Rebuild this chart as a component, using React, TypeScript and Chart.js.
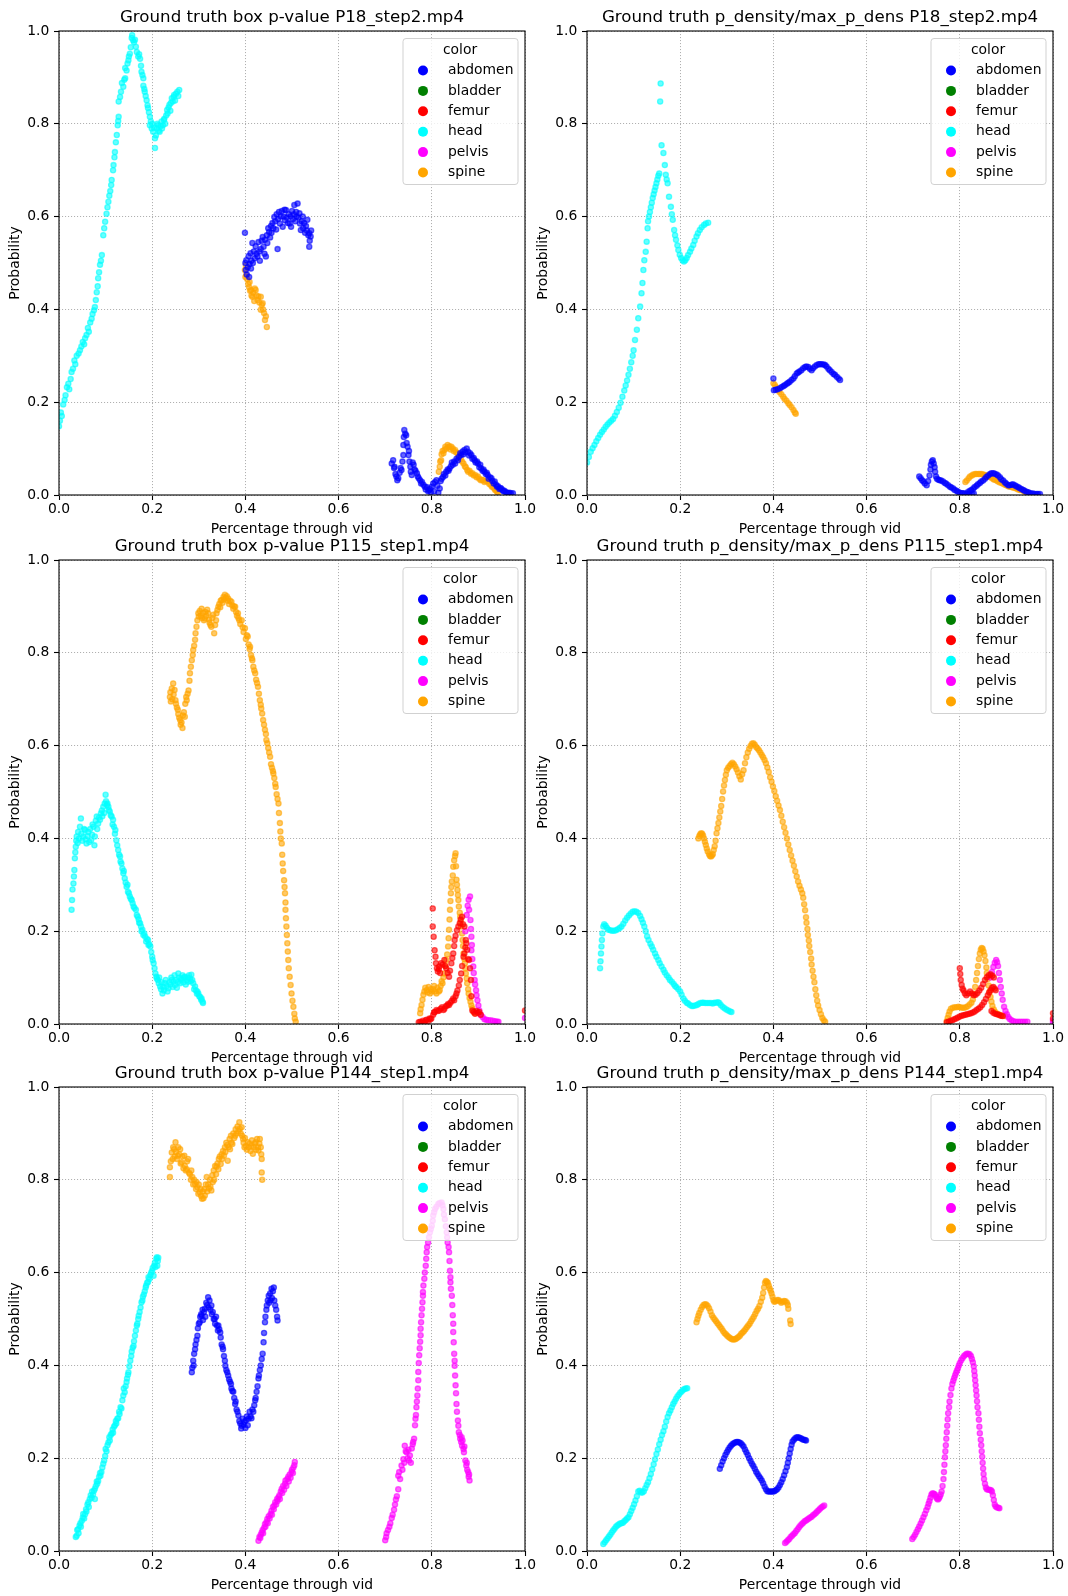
import { useEffect, useRef } from 'react';
import { Chart, registerables } from 'chart.js';

Chart.register(...registerables);

type Pt = [number, number];

const FONT = '"DejaVu Sans", "Liberation Sans", sans-serif';

// ---------- labels ----------
const categories = ['abdomen', 'bladder', 'femur', 'head', 'pelvis', 'spine'];
const categoryColors = ['0,0,255', '0,128,0', '255,0,0', '0,255,255', '255,0,255', '255,165,0'];
const axisTicks = [0, 0.2, 0.4, 0.6, 0.8, 1.0];
const xAxisLabel = 'Percentage through vid';
const yAxisLabel = 'Probability';
const legendTitle = 'color';
const panelTitles = [
  'Ground truth box p-value P18_step2.mp4',
  'Ground truth p_density/max_p_dens P18_step2.mp4',
  'Ground truth box p-value P115_step1.mp4',
  'Ground truth p_density/max_p_dens P115_step1.mp4',
  'Ground truth box p-value P144_step1.mp4',
  'Ground truth p_density/max_p_dens P144_step1.mp4',
];

// ---------- P18 box p-value ----------
const p18BoxHead: Pt[] = [[0.000,0.148],[0.002,0.160],[0.004,0.178],[0.006,0.170],[0.009,0.195],[0.012,0.205],[0.014,0.215],[0.017,0.232],[0.020,0.240],[0.022,0.228],[0.025,0.250],[0.027,0.265],[0.030,0.272],[0.033,0.290],[0.035,0.282],[0.038,0.300],[0.042,0.305],[0.045,0.312],[0.048,0.320],[0.051,0.330],[0.054,0.325],[0.056,0.338],[0.059,0.345],[0.062,0.360],[0.064,0.352],[0.067,0.372],[0.070,0.380],[0.072,0.390],[0.075,0.398],[0.077,0.405],[0.079,0.420],[0.081,0.437],[0.083,0.450],[0.084,0.467],[0.086,0.480],[0.088,0.496],[0.090,0.505],[0.092,0.517],[0.095,0.560],[0.097,0.575],[0.099,0.589],[0.102,0.606],[0.104,0.620],[0.106,0.632],[0.108,0.645],[0.110,0.655],[0.112,0.668],[0.113,0.679],[0.116,0.700],[0.117,0.711],[0.119,0.728],[0.120,0.739],[0.122,0.760],[0.124,0.776],[0.126,0.797],[0.127,0.806],[0.128,0.815],[0.128,0.848],[0.131,0.858],[0.133,0.869],[0.135,0.888],[0.138,0.880],[0.140,0.895],[0.142,0.898],[0.142,0.920],[0.145,0.915],[0.147,0.930],[0.149,0.937],[0.150,0.945],[0.152,0.951],[0.154,0.965],[0.156,0.985],[0.157,0.991],[0.159,0.980],[0.161,0.976],[0.163,0.981],[0.165,0.966],[0.167,0.955],[0.170,0.945],[0.172,0.950],[0.174,0.940],[0.176,0.925],[0.177,0.912],[0.179,0.905],[0.181,0.898],[0.181,0.882],[0.183,0.875],[0.184,0.869],[0.186,0.860],[0.188,0.851],[0.190,0.840],[0.191,0.834],[0.193,0.825],[0.195,0.815],[0.195,0.797],[0.197,0.805],[0.199,0.790],[0.200,0.800],[0.202,0.783],[0.204,0.792],[0.206,0.769],[0.206,0.748],[0.208,0.775],[0.210,0.790],[0.211,0.800],[0.213,0.797],[0.214,0.785],[0.216,0.783],[0.218,0.795],[0.220,0.805],[0.221,0.790],[0.223,0.797],[0.225,0.808],[0.226,0.811],[0.228,0.800],[0.230,0.818],[0.232,0.830],[0.233,0.822],[0.235,0.835],[0.237,0.841],[0.239,0.828],[0.240,0.845],[0.242,0.855],[0.244,0.848],[0.246,0.858],[0.247,0.862],[0.249,0.850],[0.251,0.865],[0.254,0.869],[0.256,0.860],[0.258,0.873]];
const p18BoxAbdomenMid: Pt[] = [[0.399,0.565],[0.400,0.500],[0.401,0.485],[0.402,0.506],[0.403,0.475],[0.405,0.491],[0.407,0.515],[0.408,0.470],[0.409,0.498],[0.411,0.521],[0.412,0.488],[0.413,0.505],[0.415,0.543],[0.416,0.500],[0.418,0.525],[0.420,0.510],[0.422,0.536],[0.424,0.520],[0.426,0.514],[0.428,0.545],[0.430,0.525],[0.431,0.505],[0.433,0.530],[0.435,0.548],[0.437,0.556],[0.439,0.535],[0.441,0.520],[0.442,0.550],[0.444,0.514],[0.446,0.560],[0.447,0.543],[0.449,0.575],[0.451,0.567],[0.453,0.555],[0.455,0.580],[0.456,0.565],[0.458,0.586],[0.460,0.575],[0.462,0.599],[0.464,0.590],[0.466,0.572],[0.467,0.605],[0.469,0.530],[0.470,0.595],[0.472,0.610],[0.474,0.585],[0.476,0.600],[0.478,0.612],[0.480,0.578],[0.482,0.600],[0.484,0.615],[0.485,0.592],[0.487,0.614],[0.489,0.598],[0.491,0.586],[0.493,0.605],[0.495,0.585],[0.497,0.600],[0.498,0.578],[0.500,0.612],[0.502,0.595],[0.504,0.605],[0.505,0.625],[0.507,0.590],[0.509,0.610],[0.510,0.600],[0.512,0.628],[0.514,0.598],[0.516,0.607],[0.517,0.585],[0.519,0.571],[0.521,0.590],[0.523,0.600],[0.524,0.575],[0.526,0.586],[0.528,0.565],[0.530,0.580],[0.532,0.570],[0.533,0.593],[0.535,0.560],[0.537,0.564],[0.538,0.548],[0.540,0.557],[0.537,0.535],[0.541,0.570]];
const p18BoxSpineMid: Pt[] = [[0.399,0.485],[0.400,0.470],[0.401,0.495],[0.402,0.474],[0.404,0.465],[0.406,0.455],[0.408,0.448],[0.409,0.459],[0.410,0.440],[0.412,0.442],[0.413,0.430],[0.415,0.427],[0.417,0.436],[0.419,0.418],[0.420,0.445],[0.422,0.442],[0.424,0.430],[0.426,0.420],[0.428,0.428],[0.430,0.415],[0.433,0.427],[0.433,0.399],[0.435,0.410],[0.437,0.413],[0.438,0.400],[0.440,0.392],[0.442,0.377],[0.444,0.385],[0.446,0.362]];
const p18BoxAbdomenEnd: Pt[] = [[0.714,0.068],[0.717,0.075],[0.719,0.058],[0.720,0.061],[0.722,0.045],[0.724,0.040],[0.726,0.032],[0.728,0.036],[0.731,0.048],[0.733,0.058],[0.735,0.054],[0.737,0.072],[0.739,0.086],[0.739,0.108],[0.740,0.125],[0.741,0.140],[0.743,0.132],[0.745,0.129],[0.746,0.112],[0.748,0.104],[0.750,0.086],[0.751,0.095],[0.752,0.072],[0.754,0.061],[0.755,0.050],[0.757,0.043],[0.759,0.070],[0.761,0.065],[0.763,0.055],[0.765,0.052],[0.768,0.047],[0.770,0.040],[0.772,0.036],[0.775,0.032],[0.777,0.025],[0.779,0.028],[0.782,0.022],[0.785,0.018],[0.787,0.012],[0.789,0.017],[0.792,0.008],[0.794,0.010],[0.796,0.013],[0.798,0.006],[0.800,0.018],[0.803,0.025],[0.805,0.008],[0.807,0.028],[0.810,0.032],[0.812,0.020],[0.814,0.005],[0.817,0.014],[0.819,0.030],[0.821,0.035],[0.824,0.039],[0.826,0.045],[0.829,0.042],[0.831,0.050],[0.834,0.055],[0.836,0.052],[0.838,0.057],[0.841,0.062],[0.843,0.070],[0.845,0.065],[0.848,0.072],[0.850,0.068],[0.853,0.078],[0.856,0.075],[0.858,0.082],[0.861,0.090],[0.863,0.086],[0.866,0.094],[0.868,0.088],[0.870,0.097],[0.872,0.092],[0.875,0.100],[0.878,0.093],[0.880,0.085],[0.882,0.090],[0.885,0.086],[0.887,0.078],[0.890,0.080],[0.892,0.075],[0.894,0.070],[0.897,0.072],[0.899,0.068],[0.902,0.060],[0.904,0.065],[0.906,0.057],[0.909,0.052],[0.911,0.055],[0.913,0.050],[0.916,0.045],[0.918,0.048],[0.920,0.043],[0.922,0.035],[0.925,0.038],[0.928,0.036],[0.930,0.030],[0.933,0.025],[0.935,0.029],[0.938,0.022],[0.940,0.018],[0.942,0.019],[0.945,0.013],[0.947,0.015],[0.949,0.014],[0.952,0.010],[0.954,0.008],[0.956,0.009],[0.959,0.006],[0.962,0.005],[0.965,0.004],[0.967,0.005],[0.970,0.003],[0.974,0.004]];
const p18BoxSpineEnd: Pt[] = [[0.815,0.050],[0.817,0.061],[0.818,0.072],[0.820,0.075],[0.821,0.088],[0.823,0.095],[0.825,0.090],[0.827,0.097],[0.829,0.104],[0.831,0.100],[0.834,0.108],[0.836,0.103],[0.838,0.105],[0.840,0.098],[0.842,0.104],[0.845,0.100],[0.847,0.095],[0.850,0.097],[0.852,0.092],[0.855,0.090],[0.857,0.082],[0.860,0.086],[0.862,0.078],[0.865,0.072],[0.868,0.068],[0.871,0.062],[0.873,0.060],[0.876,0.054],[0.878,0.050],[0.881,0.052],[0.884,0.046],[0.887,0.047],[0.890,0.042],[0.893,0.043],[0.896,0.038],[0.899,0.040],[0.902,0.035],[0.905,0.032],[0.908,0.033],[0.910,0.032],[0.913,0.028],[0.916,0.030],[0.920,0.029],[0.923,0.024],[0.926,0.022],[0.929,0.018],[0.931,0.018],[0.934,0.014],[0.936,0.011],[0.938,0.011],[0.940,0.007],[0.942,0.005]];

// ---------- P18 density ----------
const p18DensHead: Pt[] = [[0.000,0.070],[0.004,0.082],[0.008,0.093],[0.012,0.101],[0.016,0.108],[0.020,0.116],[0.024,0.123],[0.028,0.130],[0.032,0.136],[0.036,0.141],[0.040,0.147],[0.044,0.152],[0.048,0.156],[0.052,0.160],[0.056,0.164],[0.060,0.171],[0.064,0.179],[0.068,0.188],[0.072,0.199],[0.076,0.212],[0.080,0.225],[0.083,0.236],[0.086,0.247],[0.089,0.259],[0.092,0.272],[0.095,0.286],[0.098,0.300],[0.100,0.312],[0.103,0.334],[0.107,0.356],[0.110,0.381],[0.114,0.406],[0.117,0.435],[0.119,0.457],[0.121,0.485],[0.123,0.506],[0.126,0.524],[0.128,0.546],[0.130,0.575],[0.131,0.590],[0.133,0.600],[0.135,0.610],[0.137,0.620],[0.139,0.630],[0.141,0.640],[0.143,0.648],[0.145,0.656],[0.147,0.664],[0.149,0.672],[0.151,0.680],[0.153,0.688],[0.155,0.693],[0.157,0.848],[0.158,0.887],[0.160,0.754],[0.164,0.737],[0.167,0.711],[0.169,0.690],[0.171,0.680],[0.173,0.672],[0.176,0.643],[0.180,0.621],[0.182,0.605],[0.184,0.593],[0.187,0.571],[0.189,0.560],[0.191,0.550],[0.194,0.538],[0.196,0.528],[0.199,0.518],[0.202,0.511],[0.205,0.506],[0.208,0.503],[0.211,0.506],[0.214,0.511],[0.217,0.517],[0.221,0.524],[0.224,0.531],[0.228,0.539],[0.231,0.548],[0.235,0.557],[0.238,0.564],[0.242,0.571],[0.246,0.577],[0.251,0.582],[0.255,0.585],[0.260,0.587]];
const p18DensAbdomenMid: Pt[] = [[0.400,0.251],[0.401,0.226],[0.405,0.227],[0.409,0.228],[0.414,0.230],[0.418,0.233],[0.422,0.235],[0.425,0.237],[0.429,0.240],[0.432,0.242],[0.435,0.244],[0.439,0.248],[0.443,0.251],[0.446,0.256],[0.450,0.262],[0.453,0.264],[0.456,0.266],[0.460,0.269],[0.464,0.273],[0.468,0.276],[0.471,0.277],[0.475,0.276],[0.478,0.272],[0.482,0.269],[0.485,0.273],[0.489,0.277],[0.493,0.280],[0.497,0.282],[0.500,0.282],[0.504,0.282],[0.508,0.281],[0.511,0.280],[0.514,0.277],[0.518,0.272],[0.521,0.269],[0.525,0.265],[0.529,0.261],[0.532,0.259],[0.536,0.255],[0.540,0.251],[0.543,0.248]];
const p18DensSpineMid: Pt[] = [[0.400,0.241],[0.403,0.237],[0.406,0.232],[0.410,0.226],[0.413,0.222],[0.417,0.217],[0.421,0.212],[0.424,0.207],[0.428,0.203],[0.432,0.198],[0.435,0.194],[0.439,0.189],[0.443,0.183],[0.446,0.178],[0.448,0.175]];
const p18DensAbdomenEnd: Pt[] = [[0.713,0.040],[0.716,0.036],[0.719,0.032],[0.722,0.029],[0.725,0.025],[0.729,0.021],[0.732,0.030],[0.735,0.042],[0.737,0.055],[0.738,0.065],[0.740,0.072],[0.742,0.075],[0.744,0.068],[0.746,0.060],[0.747,0.050],[0.749,0.040],[0.751,0.035],[0.754,0.033],[0.757,0.032],[0.760,0.031],[0.764,0.029],[0.768,0.026],[0.771,0.024],[0.775,0.021],[0.779,0.018],[0.782,0.016],[0.786,0.014],[0.789,0.011],[0.793,0.009],[0.796,0.007],[0.800,0.005],[0.804,0.004],[0.807,0.004],[0.811,0.003],[0.815,0.003],[0.820,0.003],[0.826,0.003],[0.830,0.003],[0.818,0.007],[0.822,0.009],[0.825,0.011],[0.829,0.014],[0.832,0.017],[0.836,0.020],[0.839,0.023],[0.843,0.026],[0.846,0.029],[0.850,0.031],[0.854,0.035],[0.857,0.039],[0.861,0.042],[0.865,0.045],[0.868,0.047],[0.872,0.047],[0.875,0.046],[0.879,0.044],[0.882,0.042],[0.886,0.038],[0.889,0.034],[0.893,0.031],[0.897,0.027],[0.900,0.024],[0.904,0.021],[0.907,0.021],[0.911,0.022],[0.914,0.023],[0.918,0.021],[0.921,0.019],[0.925,0.017],[0.928,0.015],[0.932,0.013],[0.936,0.011],[0.939,0.009],[0.943,0.007],[0.947,0.006],[0.950,0.004],[0.954,0.003],[0.957,0.003],[0.961,0.002],[0.965,0.002],[0.968,0.002],[0.972,0.002]];
const p18DensSpineEnd: Pt[] = [[0.812,0.028],[0.815,0.031],[0.819,0.036],[0.822,0.040],[0.826,0.042],[0.829,0.044],[0.833,0.045],[0.836,0.045],[0.840,0.045],[0.843,0.045],[0.847,0.045],[0.850,0.044],[0.854,0.043],[0.857,0.042],[0.861,0.040],[0.864,0.039],[0.868,0.037],[0.872,0.034],[0.875,0.033],[0.879,0.031],[0.882,0.029],[0.886,0.027],[0.890,0.026],[0.893,0.024],[0.897,0.022],[0.900,0.021],[0.904,0.019],[0.907,0.018],[0.911,0.017],[0.914,0.016],[0.918,0.015],[0.922,0.014],[0.925,0.012],[0.929,0.011],[0.932,0.011],[0.936,0.009],[0.939,0.007],[0.943,0.005]];

// ---------- P115 box p-value ----------
const p115BoxHead: Pt[] = [[0.027,0.246],[0.028,0.267],[0.029,0.290],[0.031,0.303],[0.032,0.318],[0.033,0.332],[0.034,0.357],[0.035,0.370],[0.036,0.382],[0.037,0.395],[0.038,0.404],[0.040,0.390],[0.041,0.414],[0.043,0.400],[0.045,0.425],[0.047,0.443],[0.048,0.410],[0.050,0.395],[0.052,0.404],[0.054,0.420],[0.056,0.418],[0.057,0.398],[0.059,0.389],[0.061,0.405],[0.063,0.414],[0.065,0.392],[0.067,0.420],[0.069,0.396],[0.071,0.408],[0.072,0.430],[0.074,0.425],[0.076,0.385],[0.077,0.404],[0.079,0.438],[0.081,0.447],[0.082,0.420],[0.084,0.432],[0.086,0.445],[0.088,0.440],[0.090,0.454],[0.092,0.460],[0.093,0.448],[0.095,0.468],[0.097,0.455],[0.098,0.475],[0.100,0.494],[0.101,0.480],[0.103,0.472],[0.104,0.475],[0.106,0.468],[0.107,0.461],[0.109,0.458],[0.111,0.450],[0.113,0.447],[0.115,0.430],[0.116,0.440],[0.118,0.425],[0.120,0.410],[0.121,0.418],[0.123,0.396],[0.125,0.385],[0.127,0.375],[0.129,0.365],[0.131,0.361],[0.132,0.350],[0.134,0.346],[0.136,0.335],[0.138,0.325],[0.139,0.330],[0.141,0.314],[0.143,0.305],[0.145,0.296],[0.147,0.300],[0.148,0.285],[0.150,0.282],[0.152,0.275],[0.154,0.270],[0.156,0.267],[0.158,0.260],[0.160,0.253],[0.162,0.250],[0.165,0.246],[0.167,0.235],[0.169,0.231],[0.171,0.225],[0.172,0.218],[0.174,0.217],[0.176,0.210],[0.177,0.200],[0.179,0.203],[0.181,0.192],[0.183,0.195],[0.185,0.188],[0.187,0.178],[0.189,0.183],[0.191,0.181],[0.192,0.170],[0.194,0.172],[0.196,0.167],[0.198,0.155],[0.200,0.145],[0.201,0.138],[0.203,0.131],[0.205,0.120],[0.207,0.109],[0.209,0.102],[0.210,0.098],[0.212,0.095],[0.214,0.088],[0.215,0.100],[0.217,0.081],[0.219,0.075],[0.220,0.090],[0.222,0.066],[0.224,0.080],[0.225,0.072],[0.227,0.088],[0.229,0.095],[0.231,0.082],[0.233,0.070],[0.235,0.077],[0.237,0.090],[0.239,0.085],[0.241,0.100],[0.242,0.095],[0.244,0.080],[0.246,0.092],[0.248,0.105],[0.249,0.084],[0.251,0.095],[0.253,0.078],[0.255,0.090],[0.256,0.109],[0.258,0.100],[0.260,0.088],[0.262,0.098],[0.263,0.095],[0.265,0.105],[0.267,0.090],[0.269,0.100],[0.270,0.102],[0.272,0.085],[0.274,0.095],[0.276,0.100],[0.277,0.091],[0.279,0.105],[0.281,0.098],[0.283,0.092],[0.284,0.106],[0.286,0.095],[0.288,0.088],[0.290,0.075],[0.292,0.081],[0.294,0.072],[0.296,0.065],[0.297,0.070],[0.299,0.066],[0.301,0.060],[0.303,0.058],[0.305,0.052],[0.306,0.055],[0.308,0.048],[0.309,0.045]];
const p115BoxSpine: Pt[] = [[0.238,0.705],[0.239,0.715],[0.240,0.695],[0.242,0.723],[0.243,0.700],[0.245,0.734],[0.246,0.710],[0.248,0.720],[0.250,0.698],[0.251,0.690],[0.253,0.682],[0.255,0.677],[0.256,0.668],[0.258,0.660],[0.260,0.655],[0.261,0.645],[0.263,0.650],[0.265,0.638],[0.266,0.665],[0.268,0.672],[0.270,0.662],[0.271,0.690],[0.273,0.705],[0.274,0.698],[0.276,0.712],[0.278,0.719],[0.280,0.740],[0.281,0.756],[0.283,0.770],[0.285,0.784],[0.287,0.795],[0.288,0.806],[0.290,0.815],[0.292,0.828],[0.293,0.842],[0.295,0.856],[0.297,0.870],[0.299,0.885],[0.300,0.878],[0.302,0.890],[0.304,0.880],[0.306,0.895],[0.307,0.875],[0.309,0.886],[0.311,0.870],[0.313,0.874],[0.314,0.888],[0.316,0.880],[0.318,0.893],[0.320,0.885],[0.322,0.872],[0.323,0.865],[0.325,0.860],[0.327,0.856],[0.329,0.875],[0.331,0.882],[0.333,0.842],[0.335,0.860],[0.337,0.870],[0.338,0.885],[0.340,0.892],[0.342,0.899],[0.344,0.905],[0.346,0.898],[0.347,0.912],[0.349,0.914],[0.351,0.908],[0.353,0.920],[0.354,0.915],[0.356,0.925],[0.358,0.918],[0.360,0.922],[0.362,0.912],[0.363,0.917],[0.365,0.905],[0.367,0.912],[0.370,0.910],[0.372,0.902],[0.374,0.895],[0.376,0.900],[0.378,0.899],[0.380,0.888],[0.382,0.880],[0.384,0.885],[0.385,0.875],[0.387,0.870],[0.389,0.862],[0.392,0.870],[0.394,0.855],[0.396,0.845],[0.399,0.853],[0.401,0.830],[0.403,0.838],[0.405,0.835],[0.407,0.818],[0.409,0.808],[0.410,0.813],[0.412,0.795],[0.414,0.788],[0.415,0.784],[0.417,0.770],[0.419,0.762],[0.421,0.756],[0.423,0.742],[0.425,0.735],[0.427,0.727],[0.429,0.712],[0.431,0.698],[0.433,0.688],[0.434,0.680],[0.436,0.669],[0.438,0.655],[0.440,0.645],[0.442,0.634],[0.444,0.625],[0.445,0.612],[0.447,0.605],[0.449,0.595],[0.451,0.585],[0.453,0.576],[0.455,0.560],[0.457,0.552],[0.459,0.545],[0.460,0.540],[0.462,0.530],[0.464,0.518],[0.465,0.511],[0.467,0.495],[0.469,0.485],[0.471,0.475],[0.472,0.455],[0.474,0.433],[0.475,0.415],[0.476,0.400],[0.478,0.389],[0.479,0.365],[0.480,0.346],[0.481,0.330],[0.483,0.310],[0.484,0.295],[0.485,0.282],[0.486,0.262],[0.486,0.246],[0.487,0.228],[0.488,0.210],[0.489,0.192],[0.490,0.174],[0.491,0.156],[0.492,0.138],[0.493,0.120],[0.495,0.102],[0.497,0.084],[0.499,0.066],[0.501,0.050],[0.503,0.037],[0.505,0.022],[0.506,0.012],[0.508,0.005]];
const p115BoxSpineEnd: Pt[] = [[0.775,0.023],[0.776,0.032],[0.778,0.041],[0.780,0.052],[0.782,0.063],[0.784,0.070],[0.786,0.078],[0.789,0.073],[0.791,0.068],[0.793,0.080],[0.796,0.066],[0.798,0.075],[0.800,0.070],[0.803,0.075],[0.805,0.082],[0.807,0.070],[0.810,0.066],[0.812,0.078],[0.815,0.070],[0.817,0.073],[0.819,0.082],[0.821,0.092],[0.823,0.088],[0.825,0.100],[0.827,0.109],[0.829,0.125],[0.831,0.138],[0.833,0.150],[0.835,0.167],[0.836,0.185],[0.837,0.203],[0.838,0.225],[0.839,0.246],[0.840,0.265],[0.841,0.282],[0.842,0.295],[0.843,0.307],[0.845,0.320],[0.846,0.339],[0.848,0.353],[0.850,0.362],[0.851,0.368],[0.852,0.340],[0.853,0.311],[0.854,0.300],[0.855,0.289],[0.856,0.278],[0.857,0.267],[0.858,0.253],[0.860,0.240],[0.861,0.231],[0.862,0.220],[0.863,0.210],[0.865,0.195],[0.866,0.181],[0.867,0.168],[0.868,0.152],[0.870,0.140],[0.871,0.131],[0.872,0.120],[0.873,0.109],[0.875,0.098],[0.876,0.088],[0.878,0.075],[0.879,0.066],[0.881,0.056],[0.883,0.048],[0.885,0.040],[0.887,0.034],[0.889,0.028],[0.892,0.023]];
const p115BoxFemur: Pt[] = [[0.772,0.004],[0.775,0.005],[0.778,0.003],[0.781,0.007],[0.784,0.004],[0.787,0.008],[0.789,0.009],[0.792,0.006],[0.795,0.012],[0.797,0.010],[0.799,0.012],[0.802,0.249],[0.802,0.210],[0.803,0.020],[0.804,0.188],[0.805,0.025],[0.806,0.159],[0.806,0.026],[0.808,0.145],[0.809,0.131],[0.810,0.030],[0.811,0.120],[0.813,0.113],[0.813,0.028],[0.815,0.118],[0.816,0.124],[0.816,0.029],[0.818,0.110],[0.819,0.033],[0.820,0.131],[0.822,0.036],[0.823,0.128],[0.825,0.030],[0.827,0.138],[0.827,0.033],[0.829,0.125],[0.830,0.038],[0.831,0.120],[0.833,0.040],[0.834,0.110],[0.835,0.043],[0.837,0.102],[0.837,0.041],[0.839,0.115],[0.840,0.046],[0.842,0.131],[0.843,0.050],[0.844,0.142],[0.846,0.152],[0.846,0.055],[0.848,0.051],[0.848,0.168],[0.849,0.181],[0.851,0.060],[0.851,0.190],[0.853,0.066],[0.854,0.202],[0.855,0.072],[0.857,0.210],[0.858,0.083],[0.860,0.217],[0.860,0.095],[0.862,0.225],[0.863,0.109],[0.865,0.231],[0.865,0.125],[0.867,0.215],[0.868,0.145],[0.870,0.210],[0.870,0.152],[0.872,0.165],[0.873,0.181],[0.874,0.174],[0.876,0.160],[0.878,0.140],[0.880,0.138],[0.882,0.120],[0.884,0.095],[0.885,0.060],[0.887,0.029],[0.890,0.026],[0.893,0.022],[0.896,0.028],[0.899,0.024],[0.902,0.026],[0.905,0.020],[1.000,0.029]];
const p115BoxPelvis: Pt[] = [[0.872,0.200],[0.875,0.235],[0.877,0.255],[0.879,0.268],[0.880,0.246],[0.882,0.275],[0.883,0.224],[0.884,0.205],[0.885,0.188],[0.886,0.170],[0.885,0.159],[0.887,0.140],[0.889,0.124],[0.890,0.110],[0.892,0.095],[0.893,0.085],[0.895,0.073],[0.896,0.062],[0.898,0.051],[0.900,0.040],[0.902,0.029],[0.905,0.020],[0.909,0.015],[0.913,0.010],[0.917,0.009],[0.921,0.008],[0.926,0.008],[0.931,0.007],[0.936,0.006],[0.940,0.005],[0.943,0.005],[1.000,0.013]];

// ---------- P115 density ----------
const p115DensHead: Pt[] = [[0.028,0.120],[0.029,0.135],[0.030,0.152],[0.031,0.167],[0.032,0.181],[0.033,0.195],[0.035,0.210],[0.037,0.215],[0.040,0.212],[0.043,0.207],[0.046,0.203],[0.050,0.202],[0.054,0.201],[0.058,0.201],[0.062,0.202],[0.066,0.204],[0.070,0.207],[0.074,0.210],[0.078,0.216],[0.082,0.223],[0.086,0.229],[0.090,0.234],[0.094,0.238],[0.098,0.242],[0.102,0.243],[0.106,0.242],[0.110,0.239],[0.114,0.233],[0.117,0.226],[0.120,0.218],[0.123,0.210],[0.126,0.200],[0.129,0.189],[0.132,0.181],[0.136,0.173],[0.139,0.167],[0.142,0.160],[0.146,0.152],[0.149,0.145],[0.153,0.138],[0.156,0.131],[0.160,0.124],[0.164,0.117],[0.167,0.111],[0.171,0.105],[0.175,0.100],[0.178,0.095],[0.182,0.091],[0.186,0.086],[0.189,0.082],[0.192,0.079],[0.196,0.075],[0.200,0.070],[0.203,0.063],[0.207,0.055],[0.210,0.050],[0.214,0.046],[0.217,0.044],[0.221,0.041],[0.225,0.039],[0.228,0.039],[0.232,0.040],[0.236,0.041],[0.239,0.043],[0.243,0.045],[0.247,0.046],[0.250,0.046],[0.254,0.045],[0.258,0.045],[0.262,0.045],[0.266,0.045],[0.270,0.044],[0.273,0.046],[0.277,0.046],[0.281,0.047],[0.284,0.045],[0.287,0.041],[0.291,0.037],[0.295,0.034],[0.299,0.031],[0.303,0.029],[0.307,0.027],[0.310,0.026]];
const p115DensSpine: Pt[] = [[0.239,0.400],[0.241,0.405],[0.243,0.409],[0.245,0.411],[0.247,0.410],[0.249,0.406],[0.251,0.400],[0.253,0.393],[0.255,0.386],[0.257,0.378],[0.259,0.372],[0.262,0.366],[0.264,0.362],[0.266,0.361],[0.268,0.363],[0.270,0.366],[0.272,0.375],[0.274,0.383],[0.276,0.395],[0.278,0.411],[0.280,0.422],[0.282,0.433],[0.284,0.445],[0.286,0.458],[0.288,0.470],[0.290,0.485],[0.292,0.501],[0.294,0.514],[0.296,0.526],[0.298,0.537],[0.300,0.547],[0.303,0.552],[0.306,0.556],[0.309,0.560],[0.312,0.563],[0.315,0.560],[0.318,0.555],[0.321,0.549],[0.324,0.542],[0.327,0.534],[0.330,0.527],[0.333,0.538],[0.336,0.547],[0.339,0.562],[0.342,0.575],[0.345,0.585],[0.348,0.593],[0.351,0.599],[0.354,0.604],[0.357,0.605],[0.360,0.602],[0.363,0.597],[0.366,0.594],[0.369,0.590],[0.372,0.585],[0.375,0.580],[0.378,0.575],[0.381,0.569],[0.384,0.562],[0.387,0.553],[0.390,0.543],[0.393,0.532],[0.396,0.522],[0.399,0.512],[0.402,0.502],[0.405,0.491],[0.408,0.481],[0.411,0.471],[0.414,0.461],[0.417,0.449],[0.420,0.436],[0.423,0.424],[0.426,0.412],[0.429,0.400],[0.432,0.387],[0.435,0.375],[0.438,0.363],[0.441,0.352],[0.444,0.341],[0.447,0.329],[0.450,0.318],[0.453,0.307],[0.456,0.298],[0.459,0.290],[0.462,0.282],[0.464,0.272],[0.466,0.258],[0.468,0.245],[0.470,0.230],[0.471,0.218],[0.473,0.205],[0.474,0.192],[0.476,0.180],[0.477,0.168],[0.479,0.155],[0.481,0.141],[0.482,0.128],[0.484,0.115],[0.486,0.102],[0.488,0.090],[0.490,0.075],[0.492,0.062],[0.494,0.050],[0.496,0.040],[0.499,0.030],[0.502,0.021],[0.505,0.013],[0.508,0.008],[0.511,0.005]];
const p115DensSpineEnd: Pt[] = [[0.772,0.006],[0.774,0.013],[0.776,0.020],[0.778,0.027],[0.781,0.033],[0.785,0.035],[0.789,0.036],[0.793,0.036],[0.797,0.037],[0.801,0.036],[0.805,0.035],[0.809,0.035],[0.813,0.036],[0.817,0.038],[0.821,0.042],[0.825,0.046],[0.828,0.053],[0.831,0.065],[0.833,0.080],[0.835,0.095],[0.837,0.110],[0.839,0.125],[0.841,0.140],[0.843,0.152],[0.845,0.160],[0.847,0.164],[0.849,0.162],[0.851,0.156],[0.853,0.148],[0.855,0.136],[0.857,0.122],[0.858,0.110],[0.860,0.097],[0.862,0.083],[0.864,0.070],[0.866,0.058],[0.868,0.048],[0.870,0.039],[0.873,0.031],[0.876,0.026],[0.880,0.022],[0.884,0.020],[0.888,0.019],[0.892,0.018],[0.897,0.017]];
const p115DensFemurUpper: Pt[] = [[0.800,0.120],[0.801,0.108],[0.802,0.095],[0.804,0.084],[0.806,0.076],[0.808,0.072],[0.811,0.066],[0.814,0.062],[0.818,0.066],[0.822,0.070],[0.826,0.066],[0.830,0.062],[0.834,0.063],[0.838,0.067],[0.842,0.072],[0.846,0.078],[0.850,0.086],[0.854,0.095],[0.858,0.101],[0.862,0.105],[0.866,0.107],[0.870,0.104],[0.873,0.100]];
const p115DensFemurLower: Pt[] = [[0.772,0.004],[0.776,0.005],[0.780,0.007],[0.784,0.008],[0.788,0.010],[0.792,0.012],[0.796,0.014],[0.800,0.016],[0.804,0.018],[0.808,0.019],[0.812,0.020],[0.816,0.021],[0.820,0.022],[0.824,0.023],[0.828,0.025],[0.832,0.027],[0.836,0.030],[0.840,0.033],[0.844,0.036],[0.848,0.041],[0.852,0.047],[0.856,0.054],[0.860,0.062],[0.863,0.068],[0.866,0.073],[0.869,0.078],[0.872,0.080],[0.875,0.076],[0.877,0.073],[0.868,0.028],[0.872,0.024],[0.876,0.022],[0.880,0.021],[0.884,0.020],[0.888,0.018],[0.892,0.017],[1.000,0.023],[1.000,0.012]];
const p115DensPelvis: Pt[] = [[0.866,0.100],[0.869,0.112],[0.872,0.123],[0.875,0.132],[0.878,0.138],[0.880,0.133],[0.882,0.125],[0.884,0.110],[0.886,0.095],[0.888,0.080],[0.890,0.066],[0.892,0.052],[0.895,0.037],[0.898,0.028],[0.901,0.021],[0.904,0.015],[0.907,0.011],[0.911,0.008],[0.915,0.006],[0.920,0.005],[0.925,0.005],[0.930,0.005],[0.935,0.005],[0.940,0.005],[0.945,0.005],[1.000,0.008],[1.000,0.003]];

// ---------- P144 box p-value ----------
const p144BoxHead: Pt[] = [[0.036,0.030],[0.038,0.033],[0.039,0.045],[0.041,0.047],[0.042,0.038],[0.044,0.055],[0.046,0.060],[0.047,0.052],[0.049,0.065],[0.051,0.072],[0.052,0.080],[0.054,0.070],[0.056,0.079],[0.058,0.090],[0.059,0.085],[0.061,0.100],[0.063,0.105],[0.064,0.095],[0.066,0.112],[0.068,0.120],[0.070,0.115],[0.071,0.128],[0.073,0.122],[0.075,0.130],[0.077,0.134],[0.077,0.112],[0.079,0.140],[0.081,0.150],[0.082,0.145],[0.084,0.151],[0.086,0.160],[0.088,0.168],[0.089,0.162],[0.091,0.170],[0.093,0.180],[0.095,0.188],[0.097,0.195],[0.099,0.205],[0.100,0.220],[0.102,0.215],[0.104,0.228],[0.106,0.234],[0.108,0.245],[0.109,0.238],[0.111,0.250],[0.113,0.253],[0.115,0.262],[0.116,0.255],[0.118,0.268],[0.120,0.271],[0.122,0.280],[0.123,0.275],[0.125,0.285],[0.127,0.286],[0.129,0.300],[0.130,0.295],[0.132,0.310],[0.134,0.307],[0.136,0.325],[0.138,0.335],[0.139,0.350],[0.141,0.342],[0.143,0.355],[0.145,0.364],[0.146,0.372],[0.148,0.380],[0.149,0.385],[0.151,0.398],[0.153,0.410],[0.155,0.420],[0.156,0.430],[0.158,0.438],[0.160,0.442],[0.161,0.452],[0.163,0.464],[0.165,0.475],[0.167,0.486],[0.168,0.490],[0.170,0.500],[0.171,0.507],[0.173,0.515],[0.175,0.525],[0.177,0.536],[0.179,0.540],[0.180,0.548],[0.182,0.553],[0.184,0.560],[0.186,0.568],[0.187,0.572],[0.189,0.578],[0.191,0.580],[0.192,0.590],[0.194,0.586],[0.196,0.595],[0.198,0.600],[0.200,0.604],[0.201,0.610],[0.203,0.593],[0.204,0.615],[0.206,0.622],[0.207,0.612],[0.209,0.630],[0.210,0.633],[0.212,0.625],[0.213,0.632],[0.211,0.615]];
const p144BoxAbdomen: Pt[] = [[0.285,0.385],[0.286,0.395],[0.288,0.410],[0.289,0.400],[0.290,0.425],[0.292,0.435],[0.293,0.445],[0.295,0.455],[0.297,0.464],[0.298,0.480],[0.300,0.490],[0.302,0.493],[0.303,0.505],[0.305,0.510],[0.306,0.507],[0.308,0.520],[0.309,0.498],[0.311,0.515],[0.313,0.522],[0.314,0.505],[0.316,0.535],[0.318,0.530],[0.320,0.547],[0.321,0.525],[0.323,0.540],[0.325,0.520],[0.327,0.529],[0.328,0.510],[0.330,0.515],[0.332,0.500],[0.334,0.500],[0.335,0.490],[0.337,0.505],[0.339,0.486],[0.341,0.475],[0.342,0.486],[0.344,0.478],[0.346,0.471],[0.347,0.460],[0.349,0.445],[0.351,0.440],[0.352,0.435],[0.354,0.420],[0.356,0.410],[0.357,0.399],[0.359,0.390],[0.361,0.385],[0.363,0.378],[0.365,0.370],[0.367,0.365],[0.369,0.360],[0.370,0.350],[0.372,0.345],[0.374,0.343],[0.376,0.330],[0.378,0.317],[0.379,0.322],[0.381,0.305],[0.383,0.300],[0.385,0.292],[0.387,0.280],[0.389,0.275],[0.391,0.264],[0.392,0.270],[0.394,0.285],[0.396,0.272],[0.398,0.278],[0.400,0.265],[0.401,0.282],[0.403,0.290],[0.405,0.271],[0.407,0.285],[0.409,0.300],[0.411,0.290],[0.413,0.286],[0.415,0.305],[0.417,0.300],[0.419,0.314],[0.421,0.325],[0.422,0.330],[0.424,0.343],[0.426,0.355],[0.428,0.372],[0.429,0.378],[0.431,0.390],[0.433,0.400],[0.435,0.414],[0.437,0.425],[0.439,0.450],[0.440,0.470],[0.442,0.493],[0.443,0.505],[0.445,0.520],[0.446,0.529],[0.448,0.540],[0.450,0.550],[0.451,0.535],[0.453,0.555],[0.454,0.540],[0.456,0.565],[0.457,0.545],[0.459,0.560],[0.461,0.568],[0.462,0.540],[0.464,0.529],[0.466,0.520],[0.468,0.505],[0.469,0.497]];
const p144BoxSpine: Pt[] = [[0.238,0.827],[0.238,0.806],[0.240,0.840],[0.242,0.859],[0.244,0.845],[0.245,0.870],[0.247,0.866],[0.248,0.850],[0.250,0.881],[0.251,0.860],[0.253,0.845],[0.255,0.852],[0.256,0.870],[0.258,0.855],[0.260,0.866],[0.261,0.835],[0.263,0.838],[0.265,0.850],[0.267,0.825],[0.269,0.852],[0.270,0.830],[0.272,0.820],[0.274,0.823],[0.275,0.840],[0.277,0.845],[0.279,0.815],[0.281,0.812],[0.283,0.800],[0.284,0.820],[0.286,0.806],[0.288,0.790],[0.290,0.800],[0.292,0.791],[0.294,0.780],[0.295,0.795],[0.297,0.784],[0.299,0.770],[0.300,0.790],[0.302,0.773],[0.304,0.780],[0.305,0.765],[0.307,0.759],[0.309,0.775],[0.310,0.760],[0.312,0.780],[0.313,0.766],[0.315,0.790],[0.317,0.806],[0.318,0.775],[0.320,0.790],[0.322,0.781],[0.324,0.800],[0.325,0.785],[0.327,0.777],[0.329,0.810],[0.330,0.795],[0.332,0.820],[0.333,0.800],[0.335,0.830],[0.337,0.812],[0.338,0.828],[0.340,0.835],[0.342,0.823],[0.343,0.845],[0.345,0.850],[0.347,0.834],[0.349,0.855],[0.350,0.845],[0.352,0.862],[0.354,0.852],[0.356,0.870],[0.357,0.860],[0.359,0.880],[0.361,0.875],[0.362,0.841],[0.364,0.870],[0.366,0.888],[0.367,0.866],[0.369,0.895],[0.370,0.880],[0.372,0.877],[0.374,0.900],[0.376,0.890],[0.378,0.895],[0.379,0.909],[0.381,0.900],[0.383,0.915],[0.385,0.905],[0.387,0.924],[0.388,0.910],[0.390,0.900],[0.392,0.913],[0.393,0.895],[0.395,0.888],[0.396,0.880],[0.398,0.870],[0.399,0.890],[0.401,0.873],[0.403,0.865],[0.405,0.881],[0.407,0.870],[0.409,0.878],[0.411,0.862],[0.413,0.873],[0.414,0.885],[0.416,0.856],[0.418,0.870],[0.420,0.878],[0.422,0.881],[0.423,0.865],[0.425,0.888],[0.427,0.870],[0.428,0.863],[0.430,0.878],[0.431,0.888],[0.433,0.870],[0.434,0.855],[0.435,0.845],[0.435,0.816],[0.436,0.800]];
const p144BoxPelvisEarly: Pt[] = [[0.428,0.022],[0.430,0.030],[0.432,0.028],[0.433,0.035],[0.435,0.040],[0.437,0.045],[0.438,0.038],[0.440,0.050],[0.442,0.058],[0.443,0.052],[0.445,0.062],[0.447,0.069],[0.448,0.060],[0.450,0.075],[0.452,0.070],[0.454,0.080],[0.456,0.087],[0.457,0.078],[0.459,0.095],[0.461,0.090],[0.462,0.098],[0.464,0.105],[0.466,0.100],[0.468,0.112],[0.469,0.108],[0.471,0.116],[0.473,0.120],[0.474,0.112],[0.476,0.128],[0.478,0.134],[0.479,0.125],[0.481,0.140],[0.483,0.132],[0.485,0.145],[0.486,0.152],[0.488,0.140],[0.490,0.155],[0.492,0.160],[0.493,0.150],[0.495,0.165],[0.497,0.158],[0.499,0.170],[0.500,0.175],[0.502,0.168],[0.503,0.180],[0.505,0.185],[0.506,0.192]];
const p144BoxPelvisLate: Pt[] = [[0.700,0.023],[0.702,0.030],[0.703,0.038],[0.706,0.045],[0.709,0.052],[0.711,0.060],[0.714,0.071],[0.716,0.078],[0.719,0.089],[0.721,0.100],[0.723,0.111],[0.725,0.118],[0.728,0.133],[0.728,0.162],[0.730,0.170],[0.732,0.155],[0.735,0.184],[0.737,0.175],[0.739,0.198],[0.741,0.190],[0.742,0.227],[0.744,0.215],[0.746,0.213],[0.748,0.200],[0.750,0.218],[0.751,0.195],[0.753,0.206],[0.755,0.190],[0.757,0.221],[0.759,0.230],[0.760,0.235],[0.762,0.242],[0.764,0.271],[0.765,0.285],[0.766,0.293],[0.767,0.310],[0.768,0.322],[0.769,0.335],[0.770,0.350],[0.771,0.368],[0.771,0.386],[0.772,0.405],[0.773,0.422],[0.774,0.437],[0.775,0.451],[0.776,0.465],[0.776,0.479],[0.777,0.493],[0.778,0.508],[0.779,0.522],[0.780,0.536],[0.781,0.550],[0.781,0.558],[0.782,0.572],[0.784,0.587],[0.785,0.600],[0.787,0.615],[0.788,0.630],[0.789,0.644],[0.790,0.655],[0.792,0.665],[0.794,0.676],[0.796,0.687],[0.798,0.694],[0.800,0.701],[0.802,0.712],[0.803,0.723],[0.805,0.730],[0.807,0.737],[0.810,0.742],[0.814,0.748],[0.817,0.750],[0.821,0.751],[0.823,0.745],[0.825,0.737],[0.826,0.725],[0.828,0.715],[0.830,0.700],[0.832,0.687],[0.833,0.676],[0.834,0.665],[0.836,0.655],[0.837,0.644],[0.838,0.625],[0.839,0.604],[0.840,0.590],[0.840,0.579],[0.841,0.565],[0.843,0.550],[0.844,0.530],[0.845,0.508],[0.846,0.490],[0.846,0.472],[0.847,0.450],[0.848,0.425],[0.849,0.410],[0.849,0.399],[0.850,0.378],[0.851,0.357],[0.852,0.340],[0.853,0.317],[0.854,0.300],[0.856,0.281],[0.857,0.270],[0.858,0.256],[0.860,0.250],[0.861,0.242],[0.863,0.235],[0.864,0.245],[0.865,0.227],[0.866,0.238],[0.868,0.220],[0.869,0.213],[0.870,0.225],[0.872,0.195],[0.874,0.184],[0.875,0.190],[0.876,0.175],[0.878,0.170],[0.879,0.160],[0.880,0.165],[0.881,0.152]];

// ---------- P144 density ----------
const p144DensHead: Pt[] = [[0.035,0.015],[0.038,0.019],[0.041,0.023],[0.044,0.027],[0.047,0.031],[0.050,0.035],[0.053,0.040],[0.056,0.044],[0.059,0.048],[0.062,0.052],[0.065,0.055],[0.068,0.057],[0.071,0.059],[0.074,0.060],[0.077,0.061],[0.080,0.064],[0.083,0.067],[0.086,0.070],[0.089,0.073],[0.092,0.079],[0.095,0.086],[0.098,0.093],[0.101,0.101],[0.104,0.109],[0.107,0.118],[0.110,0.128],[0.113,0.130],[0.116,0.126],[0.119,0.126],[0.122,0.129],[0.125,0.135],[0.128,0.142],[0.131,0.148],[0.134,0.157],[0.137,0.166],[0.140,0.176],[0.143,0.187],[0.146,0.198],[0.149,0.209],[0.152,0.219],[0.155,0.230],[0.158,0.240],[0.161,0.250],[0.164,0.258],[0.167,0.268],[0.170,0.279],[0.173,0.289],[0.176,0.297],[0.179,0.303],[0.182,0.310],[0.185,0.317],[0.188,0.322],[0.191,0.328],[0.194,0.333],[0.197,0.337],[0.200,0.341],[0.203,0.344],[0.206,0.347],[0.209,0.349],[0.212,0.350],[0.215,0.351]];
const p144DensSpine: Pt[] = [[0.235,0.493],[0.237,0.500],[0.239,0.507],[0.241,0.513],[0.244,0.520],[0.247,0.526],[0.250,0.530],[0.253,0.532],[0.256,0.531],[0.259,0.528],[0.262,0.523],[0.265,0.516],[0.268,0.508],[0.271,0.503],[0.274,0.499],[0.277,0.495],[0.280,0.491],[0.283,0.487],[0.286,0.483],[0.289,0.479],[0.292,0.474],[0.295,0.470],[0.298,0.467],[0.301,0.464],[0.304,0.461],[0.307,0.459],[0.310,0.457],[0.313,0.456],[0.316,0.456],[0.319,0.457],[0.322,0.459],[0.325,0.461],[0.328,0.464],[0.331,0.468],[0.334,0.471],[0.337,0.474],[0.340,0.478],[0.343,0.482],[0.346,0.486],[0.349,0.490],[0.352,0.495],[0.355,0.500],[0.358,0.505],[0.361,0.511],[0.364,0.517],[0.367,0.522],[0.370,0.528],[0.373,0.537],[0.376,0.546],[0.378,0.556],[0.380,0.568],[0.382,0.578],[0.384,0.582],[0.386,0.580],[0.388,0.578],[0.390,0.572],[0.392,0.566],[0.394,0.561],[0.396,0.555],[0.398,0.548],[0.400,0.541],[0.402,0.537],[0.405,0.538],[0.408,0.541],[0.411,0.541],[0.414,0.538],[0.417,0.535],[0.420,0.537],[0.423,0.539],[0.426,0.538],[0.429,0.535],[0.431,0.530],[0.432,0.522],[0.436,0.497],[0.437,0.489]];
const p144DensAbdomen: Pt[] = [[0.285,0.177],[0.288,0.185],[0.291,0.193],[0.294,0.200],[0.297,0.207],[0.300,0.213],[0.303,0.218],[0.306,0.223],[0.309,0.227],[0.312,0.230],[0.315,0.232],[0.318,0.234],[0.321,0.235],[0.324,0.235],[0.327,0.234],[0.330,0.232],[0.333,0.229],[0.336,0.225],[0.339,0.219],[0.342,0.213],[0.345,0.207],[0.348,0.200],[0.351,0.194],[0.354,0.188],[0.357,0.183],[0.360,0.177],[0.363,0.171],[0.366,0.166],[0.369,0.161],[0.372,0.157],[0.375,0.152],[0.378,0.146],[0.381,0.139],[0.384,0.133],[0.387,0.129],[0.390,0.128],[0.393,0.128],[0.396,0.128],[0.399,0.128],[0.402,0.129],[0.405,0.131],[0.408,0.133],[0.411,0.137],[0.414,0.142],[0.417,0.148],[0.420,0.155],[0.423,0.163],[0.426,0.172],[0.429,0.181],[0.431,0.190],[0.433,0.200],[0.435,0.210],[0.437,0.220],[0.439,0.229],[0.441,0.236],[0.444,0.240],[0.447,0.243],[0.450,0.245],[0.453,0.245],[0.456,0.244],[0.459,0.243],[0.462,0.241],[0.465,0.240],[0.468,0.239],[0.470,0.238]];
const p144DensPelvisEarly: Pt[] = [[0.425,0.017],[0.428,0.020],[0.431,0.023],[0.434,0.026],[0.437,0.030],[0.440,0.033],[0.443,0.036],[0.446,0.039],[0.449,0.043],[0.452,0.047],[0.455,0.051],[0.458,0.055],[0.461,0.058],[0.464,0.061],[0.467,0.064],[0.470,0.066],[0.473,0.068],[0.476,0.070],[0.479,0.072],[0.482,0.074],[0.485,0.077],[0.488,0.079],[0.491,0.082],[0.494,0.085],[0.497,0.088],[0.500,0.091],[0.503,0.094],[0.506,0.096],[0.509,0.098]];
const p144DensPelvisLate: Pt[] = [[0.698,0.026],[0.701,0.030],[0.704,0.035],[0.707,0.041],[0.710,0.047],[0.713,0.053],[0.716,0.059],[0.719,0.066],[0.722,0.073],[0.725,0.080],[0.728,0.088],[0.731,0.095],[0.733,0.102],[0.735,0.108],[0.737,0.115],[0.739,0.121],[0.741,0.124],[0.743,0.124],[0.745,0.123],[0.747,0.121],[0.749,0.117],[0.751,0.113],[0.753,0.111],[0.755,0.113],[0.757,0.117],[0.759,0.122],[0.761,0.128],[0.763,0.140],[0.765,0.155],[0.766,0.170],[0.767,0.186],[0.768,0.202],[0.769,0.215],[0.770,0.228],[0.771,0.242],[0.772,0.256],[0.773,0.270],[0.774,0.284],[0.775,0.297],[0.777,0.310],[0.778,0.322],[0.780,0.336],[0.782,0.350],[0.784,0.360],[0.786,0.367],[0.788,0.373],[0.790,0.379],[0.792,0.384],[0.794,0.389],[0.796,0.394],[0.798,0.400],[0.800,0.405],[0.803,0.411],[0.806,0.416],[0.809,0.420],[0.812,0.423],[0.815,0.425],[0.818,0.425],[0.821,0.424],[0.824,0.420],[0.826,0.414],[0.828,0.407],[0.830,0.398],[0.831,0.388],[0.832,0.378],[0.833,0.368],[0.834,0.357],[0.835,0.346],[0.836,0.335],[0.837,0.323],[0.838,0.310],[0.840,0.297],[0.841,0.283],[0.842,0.268],[0.843,0.254],[0.845,0.240],[0.846,0.228],[0.847,0.215],[0.848,0.203],[0.849,0.190],[0.850,0.178],[0.851,0.166],[0.852,0.155],[0.854,0.145],[0.856,0.137],[0.858,0.133],[0.861,0.132],[0.864,0.132],[0.867,0.131],[0.869,0.128],[0.871,0.120],[0.873,0.110],[0.875,0.100],[0.877,0.096],[0.880,0.094],[0.883,0.093],[0.885,0.092]];

// ---------- panels (category -> points) ----------
type Series = { cat: string; pts: Pt[] };
const panelSeries: Series[][] = [
  [
    { cat: 'abdomen', pts: [...p18BoxAbdomenMid, ...p18BoxAbdomenEnd] },
    { cat: 'head', pts: p18BoxHead },
    { cat: 'spine', pts: [...p18BoxSpineMid, ...p18BoxSpineEnd] },
  ],
  [
    { cat: 'abdomen', pts: [...p18DensAbdomenMid, ...p18DensAbdomenEnd] },
    { cat: 'head', pts: p18DensHead },
    { cat: 'spine', pts: [...p18DensSpineMid, ...p18DensSpineEnd] },
  ],
  [
    { cat: 'femur', pts: p115BoxFemur },
    { cat: 'head', pts: p115BoxHead },
    { cat: 'pelvis', pts: p115BoxPelvis },
    { cat: 'spine', pts: [...p115BoxSpine, ...p115BoxSpineEnd] },
  ],
  [
    { cat: 'femur', pts: [...p115DensFemurUpper, ...p115DensFemurLower] },
    { cat: 'head', pts: p115DensHead },
    { cat: 'pelvis', pts: p115DensPelvis },
    { cat: 'spine', pts: [...p115DensSpine, ...p115DensSpineEnd] },
  ],
  [
    { cat: 'abdomen', pts: p144BoxAbdomen },
    { cat: 'head', pts: p144BoxHead },
    { cat: 'pelvis', pts: [...p144BoxPelvisEarly, ...p144BoxPelvisLate] },
    { cat: 'spine', pts: p144BoxSpine },
  ],
  [
    { cat: 'abdomen', pts: p144DensAbdomen },
    { cat: 'head', pts: p144DensHead },
    { cat: 'pelvis', pts: [...p144DensPelvisEarly, ...p144DensPelvisLate] },
    { cat: 'spine', pts: p144DensSpine },
  ],
];

// ---------- layout (px) ----------
const AX_W = 466;
const AX_H = 464;
const Y_AXIS_W = 59;
const X_AXIS_H = 45;
const TITLE_H = 23;
const COL_LEFT = [59, 587];
const ROW_TOP = [31, 560, 1087];
const CANVAS_W = Y_AXIS_W + AX_W + 59;
const CANVAS_H = TITLE_H + AX_H + X_AXIS_H;

const colorOf = (cat: string, a: number) =>
  `rgba(${categoryColors[categories.indexOf(cat)]},${a})`;

const fmt = (v: any) => Number(v).toFixed(1);

const frameAndLegend = {
  id: 'frameAndLegend',
  afterDatasetsDraw(chart: any) {
    const { ctx, chartArea } = chart;
    const { left, top, right, bottom } = chartArea;
    ctx.save();
    ctx.setLineDash([]);
    ctx.strokeStyle = '#000';
    ctx.lineWidth = 1.1;
    ctx.strokeRect(left, top, right - left, bottom - top);

    // legend frame
    const lx = right - 122;
    const ly = top + 7.5;
    const lw = 115;
    const lh = 146;
    const r = 3;
    ctx.beginPath();
    ctx.moveTo(lx + r, ly);
    ctx.lineTo(lx + lw - r, ly);
    ctx.arcTo(lx + lw, ly, lx + lw, ly + r, r);
    ctx.lineTo(lx + lw, ly + lh - r);
    ctx.arcTo(lx + lw, ly + lh, lx + lw - r, ly + lh, r);
    ctx.lineTo(lx + r, ly + lh);
    ctx.arcTo(lx, ly + lh, lx, ly + lh - r, r);
    ctx.lineTo(lx, ly + r);
    ctx.arcTo(lx, ly, lx + r, ly, r);
    ctx.closePath();
    ctx.fillStyle = 'rgba(255,255,255,0.8)';
    ctx.fill();
    ctx.strokeStyle = 'rgba(204,204,204,0.9)';
    ctx.lineWidth = 1;
    ctx.stroke();

    ctx.font = `13.89px ${FONT}`;
    ctx.fillStyle = '#000';
    ctx.textBaseline = 'middle';
    ctx.textAlign = 'center';
    ctx.fillText(legendTitle, right - 65, top + 19.5);
    ctx.textAlign = 'left';
    categories.forEach((c, i) => {
      const y = top + 39.5 + i * 20.4;
      ctx.beginPath();
      ctx.arc(right - 102, y, 5, 0, Math.PI * 2);
      ctx.fillStyle = colorOf(c, 1);
      ctx.fill();
      ctx.fillStyle = '#000';
      ctx.fillText(c, right - 77, y);
    });
    ctx.restore();
  },
};

function Panel({ index }: { index: number }) {
  const ref = useRef<HTMLCanvasElement | null>(null);
  const col = index % 2;
  const row = Math.floor(index / 2);
  const left = COL_LEFT[col] - Y_AXIS_W;
  const top = ROW_TOP[row] - TITLE_H;

  useEffect(() => {
    if (!ref.current) return;
    const tickFont = { family: FONT, size: 13.89 };
    const datasets = panelSeries[index].map((s) => ({
      label: s.cat,
      data: s.pts.map(([x, y]) => ({ x, y })),
      backgroundColor: colorOf(s.cat, 0.6),
      borderColor: colorOf(s.cat, 0.6),
      pointRadius: 2.6,
      pointBorderWidth: 1.3,
      pointHoverRadius: 2.6,
      pointHitRadius: 0,
      showLine: false,
      clip: 0,
    }));
    const chart = new Chart(ref.current, {
      type: 'scatter',
      data: { datasets },
      options: {
        animation: false,
        responsive: false,
        devicePixelRatio: 1,
        events: [],
        layout: { padding: { left: 0, top: 0, bottom: 0, right: 59 }, autoPadding: false },
        plugins: {
          legend: { display: false },
          tooltip: { enabled: false },
          title: {
            display: true,
            text: panelTitles[index],
            fullSize: false,
            color: '#000',
            font: { family: FONT, size: 16.67, weight: 'normal', lineHeight: 1.2 },
            padding: { top: 0, bottom: 3 },
          },
        },
        scales: {
          x: {
            type: 'linear',
            min: 0,
            max: 1,
            afterBuildTicks: (s: any) => { s.ticks = axisTicks.map((v) => ({ value: v })); },
            afterFit: (s: any) => { s.height = X_AXIS_H; },
            ticks: { callback: fmt, color: '#000', font: tickFont, padding: 1.5, maxRotation: 0, autoSkip: false },
            grid: { color: '#b0b0b0', lineWidth: 1, drawTicks: true, tickLength: 5, tickColor: '#000', tickWidth: 1.1 },
            border: { display: false, dash: [1.1, 1.9] },
            title: { display: true, text: xAxisLabel, color: '#000', font: tickFont, padding: { top: 0, bottom: 2.5 } },
          },
          y: {
            type: 'linear',
            min: 0,
            max: 1,
            afterBuildTicks: (s: any) => { s.ticks = axisTicks.map((v) => ({ value: v })); },
            afterFit: (s: any) => { s.width = Y_AXIS_W; },
            ticks: { callback: fmt, color: '#000', font: tickFont, padding: 4.7, autoSkip: false },
            grid: { color: '#b0b0b0', lineWidth: 1, drawTicks: true, tickLength: 5, tickColor: '#000', tickWidth: 1.1 },
            border: { display: false, dash: [1.1, 1.9] },
            title: { display: true, text: yAxisLabel, color: '#000', font: tickFont, padding: { top: 7, bottom: 0 } },
          },
        },
      } as any,
      plugins: [frameAndLegend],
    } as any);
    return () => chart.destroy();
  }, [index]);

  return (
    <canvas
      ref={ref}
      width={CANVAS_W}
      height={CANVAS_H}
      style={{ position: 'absolute', left, top, width: CANVAS_W, height: CANVAS_H }}
    />
  );
}

export default function App() {
  return (
    <div
      style={{
        position: 'absolute',
        left: 0,
        top: 0,
        width: 1068,
        height: 1596,
        overflow: 'hidden',
        background: '#fff',
      }}
    >
      {panelTitles.map((_, i) => (
        <Panel key={i} index={i} />
      ))}
    </div>
  );
}
